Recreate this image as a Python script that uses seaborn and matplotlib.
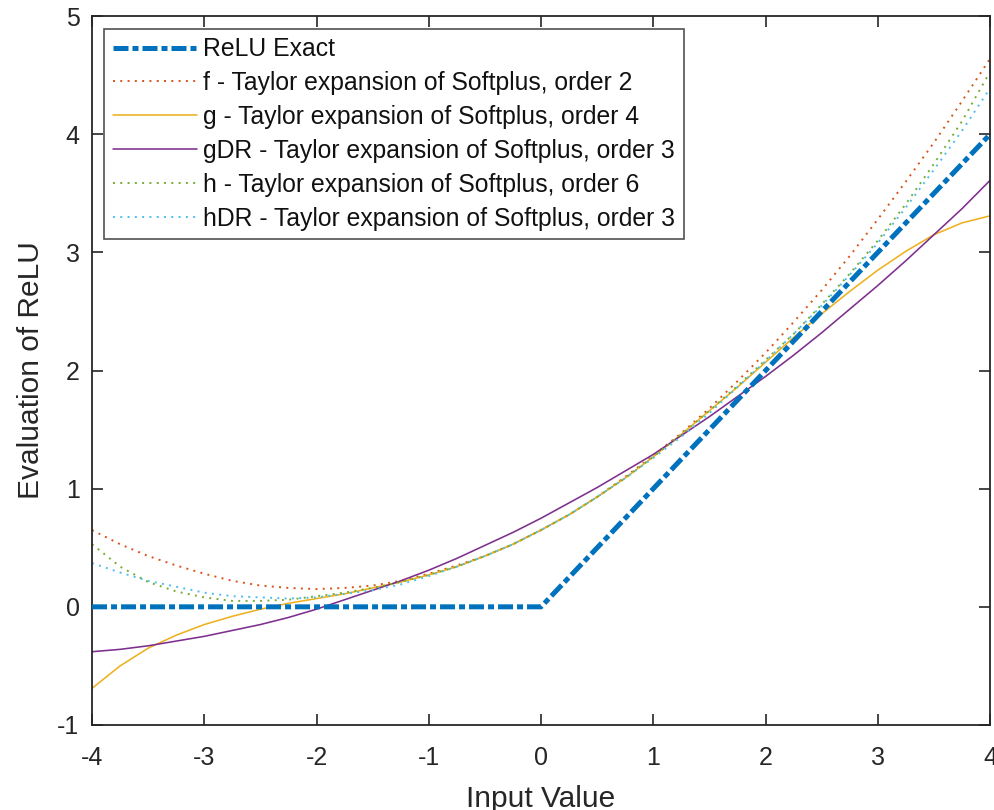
import matplotlib

matplotlib.use("Agg")
import matplotlib.pyplot as plt
import pandas as pd
import seaborn as sns

# values (every 0.25 along x)
x_vals = [-4.0, -3.75, -3.5, -3.25, -3.0, -2.75, -2.5, -2.25, -2.0,
          -1.75, -1.5, -1.25, -1.0, -0.75, -0.5, -0.25, 0.0,
          0.25, 0.5, 0.75, 1.0, 1.25, 1.5, 1.75, 2.0,
          2.25, 2.5, 2.75, 3.0, 3.25, 3.5, 3.75, 4.0]
relu_x = [-4.0, 0.0, 4.0]
relu_y = [0.0, 0.0, 4.0]
f_vals = [0.65, 0.53, 0.43, 0.35, 0.28, 0.22, 0.18, 0.16, 0.15,
          0.16, 0.18, 0.22, 0.28, 0.35, 0.43, 0.53, 0.65,
          0.78, 0.93, 1.10, 1.28, 1.47, 1.68, 1.91, 2.15,
          2.41, 2.68, 2.97, 3.28, 3.60, 3.93, 4.28, 4.64]
g_vals = [-0.69, -0.50, -0.35, -0.24, -0.15, -0.08, -0.02, 0.03, 0.07,
          0.11, 0.16, 0.21, 0.27, 0.34, 0.43, 0.53, 0.65,
          0.78, 0.93, 1.09, 1.27, 1.46, 1.66, 1.86, 2.07,
          2.28, 2.48, 2.67, 2.85, 3.01, 3.15, 3.25, 3.31]
gdr_vals = [-0.38, -0.36, -0.33, -0.29, -0.25, -0.20, -0.15, -0.09, -0.02,
            0.06, 0.14, 0.22, 0.31, 0.41, 0.52, 0.63, 0.75,
            0.88, 1.01, 1.15, 1.29, 1.45, 1.61, 1.78, 1.95,
            2.13, 2.32, 2.52, 2.72, 2.93, 3.15, 3.37, 3.61]
h_vals = [0.53, 0.34, 0.21, 0.13, 0.08, 0.05, 0.05, 0.06, 0.09,
          0.12, 0.16, 0.21, 0.27, 0.34, 0.43, 0.53, 0.65,
          0.78, 0.93, 1.09, 1.27, 1.46, 1.66, 1.87, 2.09,
          2.31, 2.56, 2.82, 3.10, 3.41, 3.75, 4.11, 4.53]
hdr_vals = [0.37, 0.29, 0.22, 0.17, 0.12, 0.09, 0.08, 0.07, 0.08,
            0.11, 0.14, 0.19, 0.26, 0.34, 0.43, 0.53, 0.65,
            0.78, 0.93, 1.09, 1.26, 1.44, 1.64, 1.86, 2.08,
            2.31, 2.55, 2.81, 3.08, 3.38, 3.70, 4.03, 4.39]

labels = [
    "ReLU Exact",
    "f - Taylor expansion of Softplus, order 2",
    "g - Taylor expansion of Softplus, order 4",
    "gDR - Taylor expansion of Softplus, order 3",
    "h - Taylor expansion of Softplus, order 6",
    "hDR - Taylor expansion of Softplus, order 3",
]
x_ticks = [-4, -3, -2, -1, 0, 1, 2, 3, 4]
y_ticks = [-1, 0, 1, 2, 3, 4, 5]

sns.set_style("ticks")
plt.rcParams["font.family"] = ["Liberation Sans", "DejaVu Sans"]
plt.rcParams["axes.unicode_minus"] = False
INK = "#262626"

fig = plt.figure(figsize=(9.95, 8.1), dpi=100)
ax = fig.add_axes([0.0925, 0.105, 0.9025, 0.875])

# (series, color, linewidth, dashes) ; None dashes = solid
DOT = (1.0, 2.75)
curves = [
    (f_vals, "#D95319", 1.4, DOT),
    (g_vals, "#EDB120", 1.15, None),
    (gdr_vals, "#7E2F8E", 1.15, None),
    (h_vals, "#77AC30", 1.4, DOT),
    (hdr_vals, "#4DBEEE", 1.4, DOT),
]

relu_df = pd.DataFrame({"x": relu_x, "y": relu_y})
sns.lineplot(data=relu_df, x="x", y="y", color="#0072BD", lw=3.6,
             label=labels[0], ax=ax, zorder=3)
ax.get_lines()[-1].set_dashes((3.0, 0.8, 1.2, 0.8))

for (vals, color, lw, dash), lab in zip(curves, labels[1:]):
    df = pd.DataFrame({"x": x_vals, "y": vals})
    sns.lineplot(data=df, x="x", y="y", color=color, lw=lw, label=lab,
                 ax=ax, zorder=2)
    if dash is not None:
        ax.get_lines()[-1].set_dashes(dash)

ax.set_xlim(-4, 4)
ax.set_ylim(-1, 5)
ax.set_xticks(x_ticks)
ax.set_yticks(y_ticks)
ax.tick_params(direction="in", length=8, width=1.2, colors=INK,
               top=True, right=True, labelsize=18)
ax.tick_params(axis="x", pad=15)
ax.tick_params(axis="y", pad=9)
for sp in ax.spines.values():
    sp.set_visible(True)
    sp.set_color(INK)
    sp.set_linewidth(1.3)

ax.set_xlabel("Input Value", fontsize=21.5, color=INK, labelpad=11)
ax.set_ylabel("Evaluation of ReLU", fontsize=21.5, color=INK, labelpad=9)

leg = ax.legend(loc="upper left", fontsize=17.8, frameon=True, fancybox=False,
                edgecolor=INK, handlelength=3.4, handletextpad=0.25,
                labelspacing=0.4, borderpad=0.35, borderaxespad=0.5)
leg.get_frame().set_linewidth(1.2)
for t in leg.get_texts():
    t.set_color("#111111")

fig.savefig("out.png", dpi=100)
